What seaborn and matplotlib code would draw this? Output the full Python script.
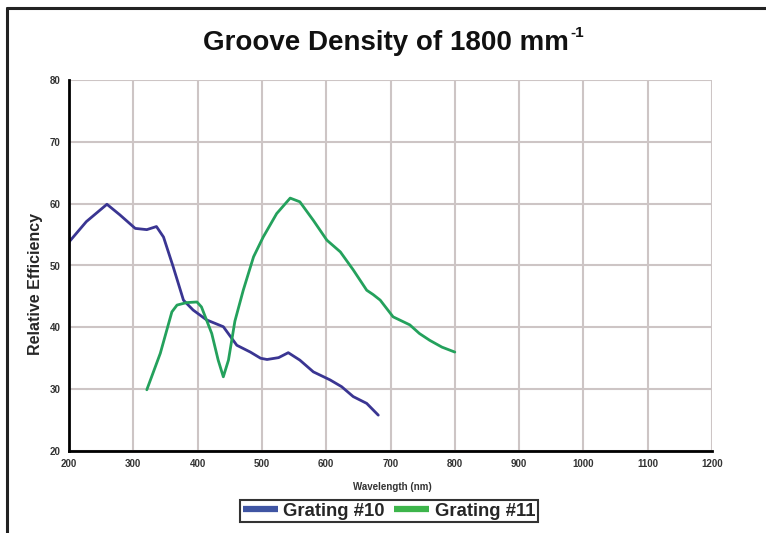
import pandas as pd
import matplotlib
matplotlib.use('Agg')
import matplotlib.pyplot as plt
import seaborn as sns
from matplotlib.lines import Line2D

# Grating #10 (blue)
wl_10 = [200, 227, 259, 279, 303, 321, 336, 347, 362, 378, 393, 414, 440, 461, 482, 498, 508, 526, 541, 559, 580, 606, 624, 642, 663, 681]
eff_10 = [53.8, 57.1, 59.9, 58.2, 56.0, 55.8, 56.3, 54.6, 49.8, 44.4, 42.8, 41.2, 40.1, 37.1, 36.0, 35.0, 34.8, 35.1, 35.9, 34.7, 32.8, 31.5, 30.4, 28.8, 27.7, 25.8]

# Grating #11 (green)
wl_11 = [321, 342, 360, 368, 383, 399, 406, 422, 432, 440, 448, 458, 471, 487, 502, 523, 544, 559, 580, 601, 622, 642, 663, 673, 684, 704, 730, 745, 761, 780, 800]
eff_11 = [29.9, 35.8, 42.5, 43.6, 44.0, 44.1, 43.3, 39.0, 34.7, 32.0, 34.7, 41.0, 46.0, 51.4, 54.6, 58.4, 60.9, 60.3, 57.3, 54.1, 52.2, 49.3, 46.0, 45.3, 44.4, 41.7, 40.4, 39.0, 37.9, 36.8, 36.0]

series_names = ['Grating #10', 'Grating #11']
line_colors = ['#3a3592', '#24a15c']
legend_colors = ['#3f55a3', '#3db54b']

x_ticks = [200, 300, 400, 500, 600, 700, 800, 900, 1000, 1100, 1200]
y_ticks = [20, 30, 40, 50, 60, 70, 80]


def build_frame():
    df10 = pd.DataFrame({'wl': wl_10, 'eff': eff_10, 'series': series_names[0]})
    df11 = pd.DataFrame({'wl': wl_11, 'eff': eff_11, 'series': series_names[1]})
    return pd.concat([df10, df11], ignore_index=True)


def plot_data(df, out_path):
    sns.set_style('white')
    plt.rcParams['font.family'] = ['Liberation Sans', 'DejaVu Sans']
    W, H = 766, 533
    fig = plt.figure(figsize=(W/100, H/100), dpi=100)
    ax = fig.add_axes([69/W, 1-451/H, (712-69)/W, (451-80)/H])

    sns.lineplot(data=df, x='wl', y='eff', hue='series', palette=line_colors,
                 linewidth=2.0, legend=False, sort=False, ax=ax)
    for ln in ax.lines:
        ln.set_solid_joinstyle('round')
        ln.set_solid_capstyle('round')

    ax.set_xlim(200, 1200)
    ax.set_ylim(20, 80)
    ax.set_xticks(x_ticks)
    ax.set_yticks(y_ticks)
    ax.grid(True, color='#cdc5c5', linewidth=1.5)
    ax.set_axisbelow(True)
    for s in ['top', 'right']:
        ax.spines[s].set_visible(False)
    for s in ['left', 'bottom']:
        ax.spines[s].set_color('black')
        ax.spines[s].set_linewidth(2.0)
        ax.spines[s].set_zorder(3)
    ax.tick_params(axis='both', direction='inout', length=6, width=1.5,
                   labelsize=7, labelcolor='#333333', pad=3)
    for lab in ax.get_xticklabels() + ax.get_yticklabels():
        lab.set_fontweight('bold')

    ax.set_xlabel('Wavelength (nm)', fontsize=7, fontweight='bold', color='#333333')
    ax.xaxis.set_label_coords((392-69)/643, -(482-451)/371)
    ax.set_ylabel('Relative Efficiency', fontsize=11.5, fontweight='bold')
    ax.yaxis.set_label_coords((43-69)/643, (451-284)/371)

    # title with a small superscript "-1"
    title = fig.text(386/W, 1-50/H, 'Groove Density of 1800 mm', ha='center', va='baseline',
                     fontsize=20, fontweight='bold', color='#111111')
    fig.canvas.draw()
    bb = title.get_window_extent()
    fig.text((bb.x1 + 1)/W, 1-37/H, '-1', ha='left', va='baseline',
             fontsize=11, fontweight='bold', color='#111111')

    handles = [Line2D([0], [0], color=c, linewidth=4.5, solid_capstyle='butt') for c in legend_colors]
    leg = fig.legend(handles, series_names, loc='center', bbox_to_anchor=(389/W, 1-511/H),
                     ncol=2, frameon=True, fancybox=False, handlelength=1.9,
                     columnspacing=0.5, handletextpad=0.3, borderpad=0.15, borderaxespad=0,
                     prop={'family': 'Liberation Sans', 'weight': 'bold', 'size': 13.3})
    leg.get_frame().set_edgecolor('black')
    leg.get_frame().set_linewidth(1.5)

    # outer frame: left and top edges
    fig.add_artist(Line2D([7/W, 7/W], [0, 1-8/H], color='#222222', linewidth=2.2))
    fig.add_artist(Line2D([7/W, 1], [1-8/H, 1-8/H], color='#222222', linewidth=2.2))

    fig.savefig(out_path, dpi=100, facecolor='white')
    plt.close(fig)


def main():
    df = build_frame()
    plot_data(df, 'out.png')


if __name__ == '__main__':
    main()
